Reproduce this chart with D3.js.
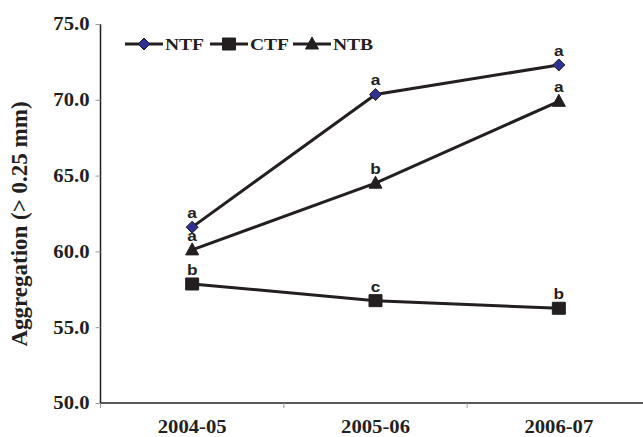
<!DOCTYPE html>
<html><head><meta charset="utf-8">
<script src="https://cdn.jsdelivr.net/npm/d3@7"></script>
<style>
html,body{margin:0;padding:0;background:#fff;}
svg{display:block;}
.serif{font-family:"Liberation Serif";font-weight:bold;}
.sans{font-family:"Liberation Sans";font-weight:bold;}
</style></head>
<body>
<svg id="chart" width="643" height="437"></svg>
<script>
const categories = ["2004-05", "2005-06", "2006-07"];
const seriesNames = ["NTF", "CTF", "NTB"];
const ntfValues = [61.6, 70.35, 72.3];
const ctfValues = [57.85, 56.75, 56.25];
const ntbValues = [60.1, 64.5, 69.9];
const ntfLetters = ["a", "a", "a"];
const ctfLetters = ["b", "c", "b"];
const ntbLetters = ["a", "b", "a"];
const yTicks = [50, 55, 60, 65, 70, 75];
const yTitle = "Aggregation (> 0.25 mm)";

const series = [
  {name: seriesNames[0], values: ntfValues, letters: ntfLetters, shape: "diamond"},
  {name: seriesNames[1], values: ctfValues, letters: ctfLetters, shape: "square"},
  {name: seriesNames[2], values: ntbValues, letters: ntbLetters, shape: "triangle"}
];

const svg = d3.select("#chart");
const ink = "#231f20";
const SX = 1.15;

const x = d3.scaleBand().domain(categories).range([100.5, 650.5]);
const y = d3.scaleLinear().domain([50, 75]).range([403, 24]);

function markerPath(shape) {
  if (shape === "diamond") return "M0,-6L6,0L0,6L-6,0Z";
  if (shape === "square") return "M-6.5,-6L6.5,-6L6.5,6L-6.5,6Z";
  return "M0,-7L6.5,5L-6.5,5Z";
}
function markerFill(shape) { return shape === "diamond" ? "#2e3192" : ink; }

// Y axis
const yAxis = svg.append("g").attr("transform", "translate(100.5,0)")
  .call(d3.axisLeft(y).tickValues(yTicks).tickFormat(d3.format(".1f")).tickSize(5).tickPadding(6));
yAxis.attr("font-family", null).attr("font-size", null);
yAxis.select(".domain").attr("stroke", ink).attr("stroke-width", 1.5).attr("d", "M0," + y(75) + "V" + y(50));
yAxis.selectAll(".tick line").attr("stroke", "#999").attr("stroke-width", 1);
yAxis.selectAll(".tick text")
  .attr("class", "serif").attr("font-size", 18)
  .attr("fill", ink).attr("x", -11 / SX).attr("transform", "scale(" + SX + ",1)").attr("dy", "0.33em");

// X axis
const xAxis = svg.append("g").attr("transform", "translate(0,403)");
xAxis.append("line").attr("x1", 100.5).attr("x2", 650).attr("stroke", ink).attr("stroke-width", 1.5);
xAxis.selectAll("line.tk").data(categories).join("line").attr("class", "tk")
  .attr("x1", d => x(d)).attr("x2", d => x(d)).attr("y1", 0).attr("y2", 5)
  .attr("stroke", "#999").attr("stroke-width", 1);
xAxis.selectAll("text").data(categories).join("text")
  .attr("class", "serif")
  .attr("transform", d => "translate(" + (x(d) + x.bandwidth() / 2) + ",30) scale(" + SX + ",1)")
  .attr("text-anchor", "middle").attr("font-size", 18).attr("fill", ink).text(d => d);

// Y title
svg.append("text").attr("class", "serif")
  .attr("transform", "translate(27,224) rotate(-90)")
  .attr("text-anchor", "middle").attr("font-size", 23).attr("fill", ink).text(yTitle);

const cx = d => x(d) + x.bandwidth() / 2;
const line = d3.line().x(d => cx(d.c)).y(d => y(d.v));

series.forEach(s => {
  const pts = categories.map((c, i) => ({c, v: s.values[i], l: s.letters[i]}));
  svg.append("path").attr("d", line(pts)).attr("fill", "none").attr("stroke", ink).attr("stroke-width", 3);
  svg.selectAll(null).data(pts).join("path")
    .attr("d", markerPath(s.shape))
    .attr("transform", d => "translate(" + cx(d.c) + "," + y(d.v) + ")")
    .attr("fill", markerFill(s.shape)).attr("stroke", ink).attr("stroke-width", 1);
  svg.selectAll(null).data(pts).join("text").attr("class", "sans")
    .attr("transform", d => "translate(" + cx(d.c) + "," + (y(d.v) - 9) + ") scale(" + SX + ",1)")
    .attr("text-anchor", "middle").attr("font-size", 15).attr("fill", ink).text(d => d.l);
});

// Legend
const legendX = [125, 210, 293];
const legend = svg.append("g").attr("transform", "translate(0,44)");
series.forEach((s, i) => {
  const g = legend.append("g").attr("transform", "translate(" + legendX[i] + ",0)");
  g.append("line").attr("x1", 0).attr("x2", 38).attr("stroke", ink).attr("stroke-width", 3);
  g.append("path").attr("d", markerPath(s.shape)).attr("transform", "translate(19,0)")
    .attr("fill", markerFill(s.shape)).attr("stroke", ink).attr("stroke-width", 1);
  g.append("text").attr("class", "serif").attr("transform", "translate(40,6) scale(" + SX + ",1)")
    .attr("font-size", 17).attr("fill", ink).text(s.name);
});
</script>
</body></html>
